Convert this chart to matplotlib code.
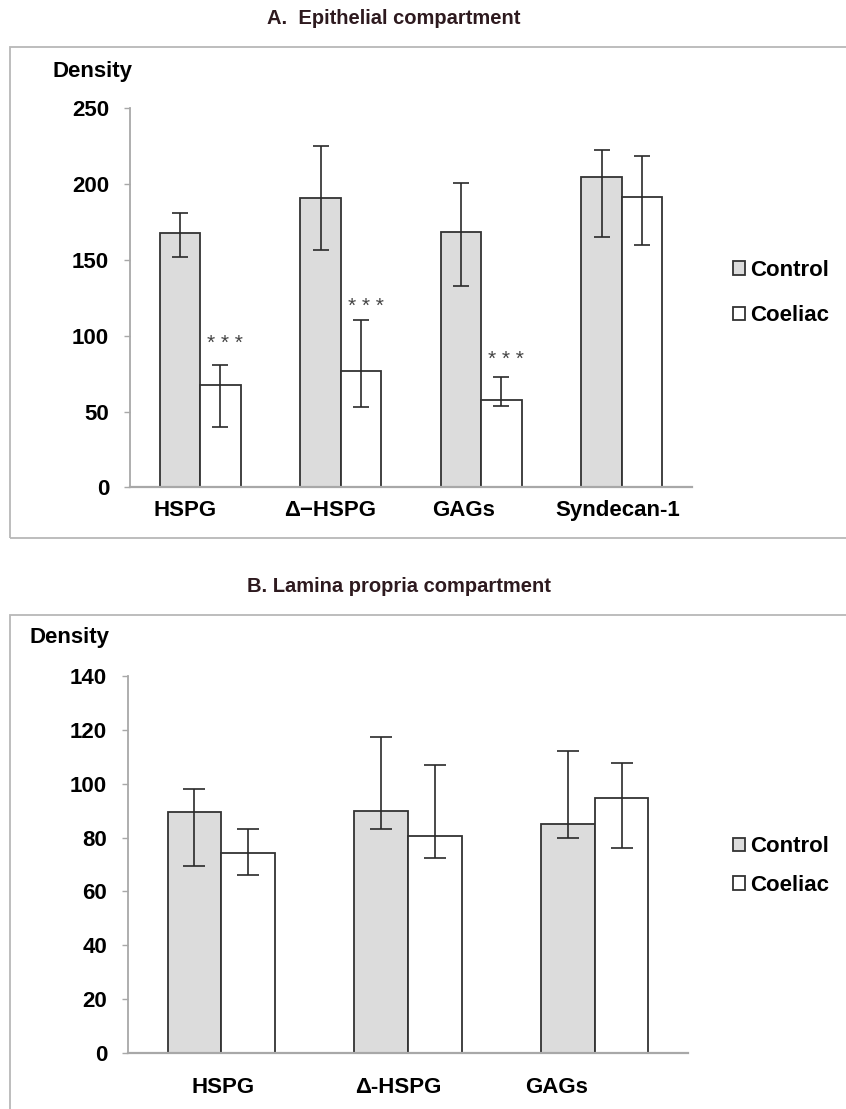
import numpy as np
import matplotlib
matplotlib.use('Agg')
import matplotlib.pyplot as plt
import matplotlib.patches as patches
from matplotlib.transforms import ScaledTranslation

plt.rcParams['font.family'] = ['Liberation Sans', 'DejaVu Sans']

# Panel A - epithelial compartment
cats_a = ['HSPG', '\u0394\u2212HSPG', 'GAGs', 'Syndecan-1']
ctrl_a = [167.7, 190.5, 168.4, 204.4]
ctrl_a_hi = [180.7, 224.9, 200.6, 222.4]
ctrl_a_lo = [151.6, 156.5, 132.9, 165.3]
coel_a = [67.7, 76.9, 57.9, 191.3]
coel_a_hi = [80.7, 110.6, 72.5, 218.3]
coel_a_lo = [40.1, 53.1, 53.8, 159.6]
stars_a = ['* * *', '* * *', '* * *', '']
star_y_a = [95, 119, 84, 0]
yticks_a = [0, 50, 100, 150, 200, 250]

# Panel B - lamina propria compartment
cats_b = ['HSPG', '\u0394-HSPG', 'GAGs']
ctrl_b = [89.4, 89.7, 85.2]
ctrl_b_hi = [98.0, 117.1, 112.2]
ctrl_b_lo = [69.6, 83.3, 79.7]
coel_b = [74.3, 80.6, 94.8]
coel_b_hi = [83.3, 107.0, 107.5]
coel_b_lo = [66.0, 72.3, 76.0]
yticks_b = [0, 20, 40, 60, 80, 100, 120, 140]

W, H = 846, 1109
CTRL_COLOR = '#dcdcdc'
EDGE = '#333333'
AXIS_GRAY = '#a8a8a8'
TITLE_COLOR = '#2e1a1f'


def fx(x):
    return x / W


def fy(y):
    return 1 - y / H


def panel(fig, rect, cats, ctrl, ctrl_hi, ctrl_lo, coel, coel_hi, coel_lo,
          yticks, capsize, label_shift, label_pad):
    ax = fig.add_axes(rect)
    x = np.arange(len(cats))
    w = 0.288

    ctrl = np.array(ctrl)
    coel = np.array(coel)
    ctrl_err = [ctrl - np.array(ctrl_lo), np.array(ctrl_hi) - ctrl]
    coel_err = [coel - np.array(coel_lo), np.array(coel_hi) - coel]

    ax.bar(x - w/2, ctrl, w, color=CTRL_COLOR, edgecolor=EDGE, linewidth=1.3,
           label='Control', zorder=2)
    ax.bar(x + w/2, coel, w, color='white', edgecolor=EDGE, linewidth=1.3,
           label='Coeliac', zorder=2)
    ax.errorbar(x - w/2, ctrl, yerr=ctrl_err, fmt='none', ecolor='#2a2a2a',
                elinewidth=1.2, capsize=capsize, capthick=1.2, zorder=3)
    ax.errorbar(x + w/2, coel, yerr=coel_err, fmt='none', ecolor='#2a2a2a',
                elinewidth=1.2, capsize=capsize, capthick=1.2, zorder=3)

    ax.set_xlim(-0.5, len(cats) - 0.5)
    ax.set_ylim(0, yticks[-1])
    ax.set_yticks(yticks)
    ax.set_xticks(x)
    ax.set_xticklabels(cats, fontsize=16, fontweight='bold')
    for t in ax.get_yticklabels():
        t.set_fontsize(16)
        t.set_fontweight('bold')

    ax.spines['top'].set_visible(False)
    ax.spines['right'].set_visible(False)
    ax.spines['left'].set_color(AXIS_GRAY)
    ax.spines['bottom'].set_color(AXIS_GRAY)
    ax.spines['left'].set_linewidth(1.3)
    ax.spines['bottom'].set_linewidth(1.6)
    ax.tick_params(axis='y', length=4, width=1.0, color=AXIS_GRAY, pad=11)
    ax.tick_params(axis='x', length=0, pad=label_pad)

    for lab, dx in zip(ax.get_xticklabels(), label_shift):
        lab.set_transform(lab.get_transform() +
                          ScaledTranslation(dx / 100, 0, fig.dpi_scale_trans))
    return ax, x, w


fig = plt.figure(figsize=(8.46, 11.09), dpi=100)

# outer frames
fig.add_artist(patches.Rectangle((fx(10), fy(538)), 1.0, fy(47) - fy(538),
                                 transform=fig.transFigure, fill=False,
                                 edgecolor='#b8b8b8', linewidth=1.3))
fig.add_artist(patches.Rectangle((fx(10), -0.05), 1.0, fy(615) + 0.05,
                                 transform=fig.transFigure, fill=False,
                                 edgecolor='#b8b8b8', linewidth=1.3))

# Panel A
ax_a, xa, wa = panel(fig, [fx(130), fy(487.5), fx(692) - fx(130), fy(108) - fy(487.5)],
                     cats_a, ctrl_a, ctrl_a_hi, ctrl_a_lo, coel_a, coel_a_hi, coel_a_lo,
                     yticks_a, 5.5, [-15, -11, -18, -4], 9)
for i in range(len(cats_a)):
    if stars_a[i]:
        ax_a.text(xa[i] + wa/2 + 0.035, star_y_a[i], stars_a[i], ha='center',
                  va='center', fontsize=15, color='#444444')
fig.text(fx(394), fy(19), 'A.  Epithelial compartment', ha='center', va='center',
         fontsize=14.5, fontweight='bold', color=TITLE_COLOR)
fig.text(fx(52), fy(71), 'Density', ha='left', va='center', fontsize=16,
         fontweight='bold')
ax_a.legend(loc='center left', bbox_to_anchor=(fx(733), fy(293)),
            bbox_transform=fig.transFigure, frameon=False,
            prop={'weight': 'bold', 'size': 16}, handlelength=0.55,
            handleheight=0.55, handletextpad=0.2, labelspacing=1.1,
            borderpad=0, borderaxespad=0)

# Panel B
ax_b, xb, wb = panel(fig, [fx(128), fy(1053.3), fx(688) - fx(128), fy(675.7) - fy(1053.3)],
                     cats_b, ctrl_b, ctrl_b_hi, ctrl_b_lo, coel_b, coel_b_hi, coel_b_lo,
                     yticks_b, 8, [2, -10, -38], 17)
fig.text(fx(399), fy(586), 'B. Lamina propria compartment', ha='center', va='center',
         fontsize=14.5, fontweight='bold', color=TITLE_COLOR)
fig.text(fx(29), fy(638), 'Density', ha='left', va='center', fontsize=16,
         fontweight='bold')
ax_b.legend(loc='center left', bbox_to_anchor=(fx(733), fy(866)),
            bbox_transform=fig.transFigure, frameon=False,
            prop={'weight': 'bold', 'size': 16}, handlelength=0.55,
            handleheight=0.55, handletextpad=0.2, labelspacing=0.8,
            borderpad=0, borderaxespad=0)

fig.savefig('out.png', dpi=100)
